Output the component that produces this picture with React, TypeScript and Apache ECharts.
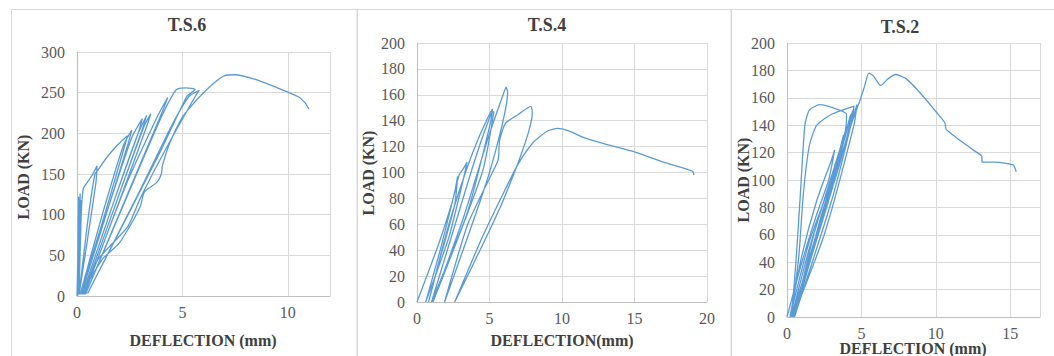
import React, { useEffect, useRef } from "react";
import * as echarts from "echarts";

// T.S.6 – deflection (mm) / load (kN)
const ts6Defl = [0, 0.05, 0.08, 0.06, 0.03, 0.1, 0.15, 0.12, 0.05, 0.12, 0.18, 0.1,
  0.2, 0.3, 0.5, 0.75, 0.95, 0.9, 0.5, 0.1,
  0.5, 0.85, 1.0, 1.4, 1.9, 2.3, 2.4, 2.1, 1.2, 0.15,
  1.2, 2.2, 2.6, 2.4, 1.5, 0.2,
  1.5, 2.6, 3.1, 2.9, 1.8, 0.25,
  1.8, 2.9, 3.3, 3.1, 2.0, 0.3,
  2.0, 3.2, 3.5, 3.3, 2.2, 0.35,
  2.3, 3.8, 4.3, 4.1, 2.8, 0.4,
  2.5, 4.0, 4.6, 4.8, 5.2, 5.6, 5.2, 4.0, 0.5,
  2.8, 4.5, 5.3, 5.8, 5.6, 4.3, 3.0, 2.4, 1.0, 0.2,
  1.2, 2.0, 2.6, 3.0, 3.2, 3.8, 4.0, 4.05, 4.4, 5.0, 5.5, 6.0, 6.5, 7.0, 7.5, 8.5, 9.5, 10.5, 10.8, 11.0];
const ts6Load = [0, 60, 122, 40, 0, 70, 126, 60, 2, 90, 118, 3,
  100, 132, 140, 150, 160, 140, 70, 2,
  90, 150, 155, 170, 185, 195, 197, 170, 90, 2,
  100, 185, 204, 185, 110, 2,
  110, 195, 218, 200, 120, 2,
  120, 200, 222, 205, 125, 2,
  125, 210, 224, 208, 130, 2,
  135, 220, 244, 230, 150, 2,
  130, 220, 250, 255, 256, 254, 245, 180, 3,
  120, 210, 245, 253, 245, 185, 120, 85, 45, 2,
  45, 65, 90, 110, 128, 140, 150, 160, 188, 220, 236, 250, 262, 271, 272, 266, 256, 245, 238, 230];

// T.S.4
const ts4Defl = [0, 1.5, 2.5, 2.9, 3.2, 3.45, 3.2, 2.2, 0.6,
  1.6, 2.6, 2.8, 2.6, 1.5, 0.8,
  2.2, 3.5, 4.3, 5.0, 5.2, 5.1, 3.5, 1.0,
  2.5, 4.0, 5.1, 5.3, 4.5, 1.1,
  3.2, 5.0, 6.0, 6.15, 6.25, 5.0, 1.9,
  3.5, 5.2, 5.6, 5.7, 6.1, 7.0, 7.85, 7.95, 6.0, 2.6,
  4.5, 6.0, 7.0, 8.0, 9.0, 9.7, 10.5, 11.5, 13, 15, 17, 19, 19.1];
const ts4Load = [0, 45, 80, 98, 103, 108, 95, 50, 0,
  40, 85, 97, 75, 30, 0,
  60, 105, 128, 145, 149, 140, 70, 0,
  55, 110, 145, 147, 100, 0,
  65, 130, 162, 166, 162, 100, 0,
  60, 100, 110, 125, 138, 145, 151, 146, 80, 0,
  50, 85, 107, 123, 132, 134, 132, 127, 122, 116, 108, 101, 98];

// T.S.2
const ts2Defl = [0, 1.0, 2.0, 2.8, 3.2, 3.0, 2.0, 1.0, 0.2,
  1.5, 3.0, 3.8, 3.5, 1.5, 0.3,
  0.6, 0.9, 1.2, 1.5, 2.2, 3.0, 4.0, 3.9, 2.5, 0.4,
  2.0, 3.5, 4.2, 4.3, 3.6, 0.5,
  1.8, 3.2, 4.0, 4.1, 3.0, 0.3,
  0.8, 1.1, 1.5, 2.0, 3.0, 4.5, 4.4, 3.0, 0.5,
  2.2, 3.6, 4.4, 4.5, 3.5, 0.35,
  2.5, 4.0, 4.7, 4.5, 2.5, 0.4,
  2.8, 4.3, 4.9, 5.2, 5.5, 5.8, 6.3, 6.8, 7.3, 8, 9, 10, 10.6, 10.7, 11.5, 12.5, 13.1, 13.1, 14, 15.2, 15.4];
const ts2Load = [0, 40, 75, 100, 122, 115, 85, 45, 0,
  55, 100, 133, 120, 50, 0,
  40, 90, 140, 151, 155, 153, 148, 135, 80, 0,
  60, 115, 145, 148, 120, 0,
  60, 110, 138, 140, 95, 0,
  45, 90, 125, 140, 148, 154, 145, 85, 0,
  70, 120, 150, 152, 110, 0,
  80, 130, 155, 140, 60, 0,
  85, 140, 158, 168, 178, 176, 169, 174, 177, 174, 163, 150, 142, 137, 130, 122, 117, 113, 113, 111, 106];

const titles = ["T.S.6", "T.S.4", "T.S.2"];
const xNames = ["DEFLECTION (mm)", "DEFLECTION(mm)", "DEFLECTION (mm)"];
const yName = "LOAD (KN)";

const zip = (a: number[], b: number[]) => a.map((v, i) => [v, b[i]]);

export default function App() {
  const ref = useRef<HTMLDivElement>(null);
  useEffect(() => {
    if (!ref.current) return;
    const chart = echarts.init(ref.current, null, { renderer: "svg" });
    const font = "'Liberation Serif', 'Times New Roman', serif";
    const grids = [
      { left: 77, top: 52, width: 253, height: 244 },
      { left: 417, top: 43, width: 290, height: 259 },
      { left: 787, top: 43, width: 253, height: 274 },
    ];
    const xMax = [12, 20, 17];
    const yMax = [300, 200, 200];
    const yInt = [50, 20, 20];
    const gridColor = "#d9d9d9";
    const xAxis = grids.map((_, i) => ({
      type: "value",
      gridIndex: i,
      min: 0,
      max: xMax[i],
      interval: 5,
      axisLine: { show: true, lineStyle: { color: "#bfbfbf" } },
      axisTick: { show: false },
      splitLine: { show: true, lineStyle: { color: gridColor } },
      axisLabel: {
        fontFamily: font,
        fontSize: 16,
        color: "#595959",
        margin: 8,
        showMaxLabel: xMax[i] % 5 === 0,
        formatter: (v: number) => (v % 5 === 0 ? String(v) : ""),
      },
    }));
    const yAxis = grids.map((_, i) => ({
      type: "value",
      gridIndex: i,
      min: 0,
      max: yMax[i],
      interval: yInt[i],
      axisLine: { show: true, lineStyle: { color: "#bfbfbf" } },
      axisTick: { show: false },
      splitLine: { show: true, lineStyle: { color: gridColor } },
      axisLabel: { fontFamily: font, fontSize: 16, color: "#595959", margin: 12 },
    }));
    const datasets = [zip(ts6Defl, ts6Load), zip(ts4Defl, ts4Load), zip(ts2Defl, ts2Load)];
    const series = datasets.map((d, i) => ({
      type: "line",
      xAxisIndex: i,
      yAxisIndex: i,
      data: d,
      showSymbol: false,
      smooth: 0.2,
      lineStyle: { color: "#5b9bd5", width: 1.3 },
      z: 3,
    }));
    const titlePos = [[187, 25], [547, 25], [900, 27]];
    const yNamePos = [[23, 177], [368, 173], [743, 180]];
    const xNamePos = [[203, 340], [562, 340], [913, 348]];
    const textStyle = (t: string, size: number) => ({
      text: t,
      fontFamily: font,
      fontWeight: "bold",
      fontSize: size,
      fill: "#404040",
      align: "center",
      verticalAlign: "middle",
    });
    const graphic: any[] = [
      { type: "rect", shape: { x: 11.5, y: 9.5, width: 345.5, height: 360 }, style: { fill: "none", stroke: "#d9d9d9", lineWidth: 1 }, silent: true },
      { type: "rect", shape: { x: 357.5, y: 9.5, width: 373.5, height: 360 }, style: { fill: "none", stroke: "#d9d9d9", lineWidth: 1 }, silent: true },
      { type: "rect", shape: { x: 731.5, y: 9.5, width: 330, height: 360 }, style: { fill: "none", stroke: "#d9d9d9", lineWidth: 1 }, silent: true },
    ];
    for (let i = 0; i < 3; i++) {
      graphic.push({ type: "text", x: titlePos[i][0], y: titlePos[i][1], style: textStyle(titles[i], 18) });
      graphic.push({ type: "text", x: xNamePos[i][0], y: xNamePos[i][1], style: textStyle(xNames[i], 16) });
      graphic.push({ type: "text", x: yNamePos[i][0], y: yNamePos[i][1], rotation: Math.PI / 2, style: textStyle(yName, 16) });
    }
    chart.setOption({
      animation: false,
      backgroundColor: "#ffffff",
      grid: grids.map((g) => ({ ...g, containLabel: false })),
      xAxis,
      yAxis,
      series,
      graphic,
    });
    return () => chart.dispose();
  }, []);
  return (
    <div
      ref={ref}
      style={{ position: "absolute", left: 0, top: 0, width: 1054, height: 356 }}
    />
  );
}
